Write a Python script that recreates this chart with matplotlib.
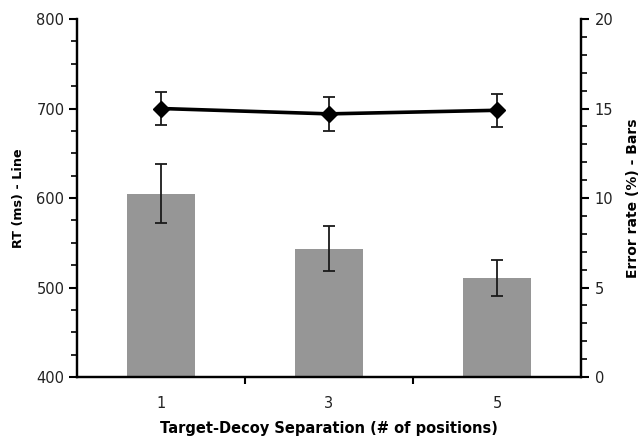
import matplotlib
matplotlib.use("Agg")
import matplotlib.pyplot as plt
from matplotlib.ticker import MultipleLocator, FixedLocator
import numpy as np

categories = ["1", "3", "5"]
rt_ms = [700, 694, 698]
rt_err = [18.5, 19, 18.6]
error_rate = [10.25, 7.17, 5.53]
error_rate_err = [1.67, 1.27, 1.0]

plt.rcParams['font.family'] = ['DejaVu Sans']

fig = plt.figure(figsize=(6.4, 4.46), dpi=100)
ax = fig.add_axes([0.1203, 0.1547, 0.7875, 0.8027])
ax2 = ax.twinx()

x = np.arange(len(categories))

# bars on right axis
ax2.bar(x, error_rate, width=0.4, color='#969696', zorder=2)
ax2.errorbar(x, error_rate, yerr=error_rate_err, fmt='none', ecolor='#1a1a1a',
             elinewidth=1.3, capsize=4, capthick=1.3, zorder=3)

# line on left axis, drawn above
ax.set_zorder(ax2.get_zorder() + 1)
ax.patch.set_visible(False)
ax.errorbar(x, rt_ms, yerr=rt_err, fmt='none', ecolor='#1a1a1a',
            elinewidth=1.3, capsize=4, capthick=1.3, zorder=3)
ax.plot(x, rt_ms, color='black', lw=2.6, marker='D', markersize=8.5, zorder=4)

ax.set_xlim(-0.5, len(categories) - 0.5)
ax.set_ylim(400, 800)
ax2.set_ylim(0, 20)

ax.yaxis.set_major_locator(MultipleLocator(100))
ax.yaxis.set_minor_locator(MultipleLocator(25))
ax2.yaxis.set_major_locator(MultipleLocator(5))
ax2.yaxis.set_minor_locator(MultipleLocator(1))

ax.set_xticks(x)
ax.set_xticklabels(categories)
ax.xaxis.set_minor_locator(FixedLocator([0.5, 1.5]))
ax.tick_params(axis='x', which='major', length=0, pad=14, labelsize=10.5, labelcolor='#222222')
ax.tick_params(axis='x', which='minor', length=5, width=1.5, direction='out')
ax.tick_params(axis='y', which='major', length=6, width=1.5, direction='out', labelsize=10.5, pad=3, labelcolor='#222222')
ax.tick_params(axis='y', which='minor', length=4, width=1.2, direction='out')
ax2.tick_params(axis='y', which='major', length=6, width=1.5, direction='out', labelsize=10.5, pad=4, labelcolor='#222222')
ax2.tick_params(axis='y', which='minor', length=4, width=1.2, direction='out')

for a in (ax, ax2):
    a.spines['top'].set_visible(False)
    for s in ('left', 'right', 'bottom'):
        a.spines[s].set_linewidth(1.6)

ax.set_ylabel("RT (ms) - Line", fontsize=9.2, fontweight='bold', labelpad=8)
ax2.set_ylabel("Error rate (%) - Bars", fontsize=10, fontweight='bold', labelpad=9)
ax.set_xlabel("Target-Decoy Separation (# of positions)", fontsize=10.5, fontweight='bold', labelpad=7)

fig.savefig("out.png", dpi=100)
